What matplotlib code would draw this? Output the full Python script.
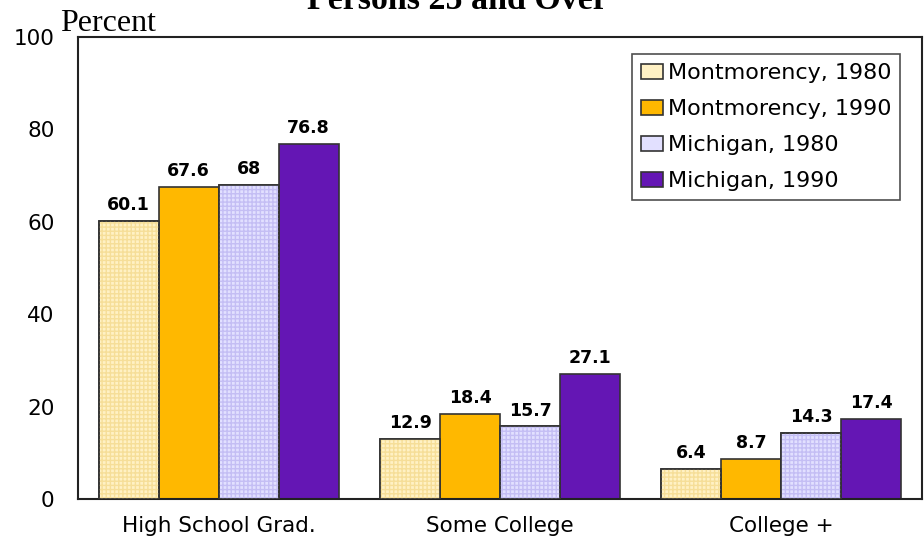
import matplotlib
matplotlib.use("Agg")
import matplotlib.pyplot as plt
import numpy as np

categories = ["High School Grad.", "Some College", "College +"]
series_names = ["Montmorency, 1980", "Montmorency, 1990", "Michigan, 1980", "Michigan, 1990"]
mont_1980 = [60.1, 12.9, 6.4]
mont_1990 = [67.6, 18.4, 8.7]
mich_1980 = [68, 15.7, 14.3]
mich_1990 = [76.8, 27.1, 17.4]
yticks = [0, 20, 40, 60, 80, 100]

colors = ["#FFF1C4", "#FFB800", "#E2E0FF", "#6416B4"]
hatch_colors = ["#F6DE98", None, "#C4BEF4", None]

fig = plt.figure(figsize=(9.24, 5.40), dpi=100)
ax = fig.add_axes([78/924, 1 - 499/540, 844/924, 462/540])

x = np.arange(len(categories))
width = 0.213
all_series = [mont_1980, mont_1990, mich_1980, mich_1990]
for i, vals in enumerate(all_series):
    pos = x + (i - 1.5) * width
    ax.bar(pos, vals, width, color=colors[i], edgecolor="#333333", linewidth=1.2,
           label=series_names[i], zorder=2)
    if hatch_colors[i]:
        # light dotted texture like the original fill pattern
        ax.bar(pos, vals, width, color="none", edgecolor=hatch_colors[i], linewidth=0,
               hatch="++++", zorder=3)
        ax.bar(pos, vals, width, color="none", edgecolor="#333333", linewidth=1.2, zorder=4)
    for p, v in zip(pos, vals):
        ax.annotate("%g" % v, (p, v), xytext=(0, 5), textcoords="offset points",
                    ha="center", va="bottom", fontsize=12.5, fontweight="bold")

ax.set_xlim(-0.5, 2.5)
ax.set_ylim(0, 100)
ax.set_yticks(yticks)
ax.set_xticks(x)
ax.set_xticklabels(categories)
ax.tick_params(axis="y", length=0, pad=17, labelsize=15.5)
ax.tick_params(axis="x", length=0, pad=12, labelsize=15.5)
for s in ax.spines.values():
    s.set_linewidth(1.5)
    s.set_color("#222222")

leg = ax.legend(loc="upper left", bbox_to_anchor=(632/924, 1 - 54/540),
                bbox_transform=fig.transFigure, fontsize=16, frameon=True, fancybox=False,
                handlelength=1.0, handleheight=0.65, handletextpad=0.2, labelspacing=0.72,
                borderpad=0.4, borderaxespad=0)
leg.get_frame().set_edgecolor("#222222")
leg.get_frame().set_linewidth(1.2)

fig.text(457/924, 1 - 9/540, "Persons 25 and Over", ha="center", va="baseline",
         family="Liberation Serif", fontsize=24.5, fontweight="bold")
fig.text(60/924, 1 - 31/540, "Percent", ha="left", va="baseline",
         family="Liberation Serif", fontsize=23)

fig.savefig("out.png", dpi=100)
